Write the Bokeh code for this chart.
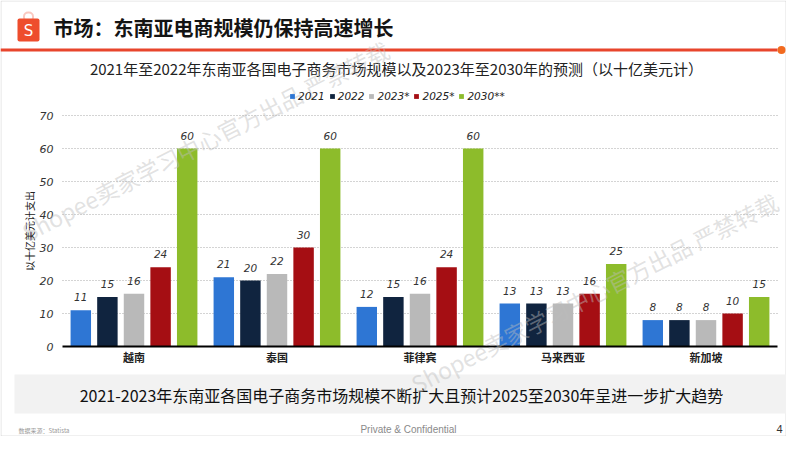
from bokeh.plotting import figure
from bokeh.models import (Range1d, Label, LabelSet, BoxAnnotation, Legend, LegendItem,
                          ColumnDataSource, FixedTicker)
from bokeh.transform import dodge
from bokeh.core.properties import value
from bokeh.embed import file_html
from bokeh.resources import INLINE

# ---------------- data ----------------
countries = ["越南", "泰国", "菲律宾", "马来西亚", "新加坡"]
years = ["2021", "2022", "2023*", "2025*", "2030**"]
v2021 = [11, 21, 12, 13, 8]
v2022 = [15, 20, 15, 13, 8]
v2023 = [16, 22, 16, 13, 8]
v2025 = [24, 30, 24, 16, 10]
v2030 = [60, 60, 60, 25, 15]
y_ticks = [0, 10, 20, 30, 40, 50, 60, 70]
colors = ["#2e76d4", "#10243f", "#b9b9b9", "#a50e13", "#8dbc2b"]

title_text = "市场：东南亚电商规模仍保持高速增长"
subtitle_text = "2021年至2022年东南亚各国电子商务市场规模以及2023年至2030年的预测（以十亿美元计）"
y_label = "以十亿美元计支出"
summary_text = "2021-2023年东南亚各国电子商务市场规模不断扩大且预计2025至2030年呈进一步扩大趋势"
footer_mid = "Private & Confidential"
footer_page = "4"
footer_src = "数据来源：Statista"
watermark = "Shopee卖家学习中心官方出品 严禁转载"

series = [v2021, v2022, v2023, v2025, v2030]
cols = ["y2021", "y2022", "y2023", "y2025", "y2030"]

# ---------------- geometry (canvas pixels) ----------------
W, H = 786, 436
FRAME_L, FRAME_R, FRAME_B = 62, 777, 346      # plotting area of the chart
PX_PER_UNIT = 3.3                              # pixels per billion USD
N = len(countries)
PX_PER_CAT = (FRAME_R - FRAME_L) / N
CJK = "Noto Sans CJK SC"
NUM = "DejaVu Sans"

# category positions on a numeric axis (category i is centred at i + 0.5)
xpos = [i + 0.5 for i in range(N)]
data = {"country": countries, "xpos": xpos}
for c, s in zip(cols, series):
    data[c] = s
    data[c + "_t"] = [str(v) for v in s]
src = ColumnDataSource(data)

x_range = Range1d(-FRAME_L / PX_PER_CAT, N + (W - FRAME_R) / PX_PER_CAT)
y_range = Range1d(-(H - FRAME_B) / PX_PER_UNIT, FRAME_B / PX_PER_UNIT)

p = figure(width=W, height=H, x_range=x_range, y_range=y_range,
           output_backend="svg", toolbar_location=None,
           min_border=0, min_border_left=0, min_border_right=0, min_border_top=0,
           min_border_bottom=0)
p.outline_line_color = None
p.background_fill_color = "white"
p.border_fill_color = "white"

# ---------------- decorations (screen units, canvas = frame) ----------------
def box(x0, y0, x1, y1, fill=None, line=None, lw=1, radius=0, alpha=1.0):
    p.add_layout(BoxAnnotation(left=x0, right=x1, top=H - y0, bottom=H - y1,
                               left_units="screen", right_units="screen",
                               top_units="screen", bottom_units="screen",
                               fill_color=fill if fill else "white",
                               fill_alpha=alpha if fill else 0,
                               line_color=line, line_width=lw, border_radius=radius))


def add_text(X, Y, t, size, color="#222222", font=CJK, style="normal", align="left",
             angle=0, alpha=1.0):
    p.add_layout(Label(x=X, y=H - Y, x_units="screen", y_units="screen", text=t,
                       text_font=font, text_font_size=f"{size}px",
                       text_font_style=style, text_color=color, text_align=align,
                       text_baseline="middle", angle=angle, angle_units="deg",
                       text_alpha=alpha))


# slide border
box(0.5, 0.5, W - 0.5, H - 0.5, fill=None, line="#9c9c9c", lw=1)
# summary strip (behind chart-free area)
box(14, 374, 787, 413, fill="#f2f2f2")

# ---------------- bars ----------------
pitch, bw = 0.186, 0.143
items = []
for i, (c, yr, col) in enumerate(zip(cols, years, colors)):
    off = (i - 2) * pitch
    r = p.vbar(x=dodge("xpos", off), top=c, width=bw, source=src,
               fill_color=col, line_color=None)
    items.append(LegendItem(label=yr, renderers=[r]))
    p.add_layout(LabelSet(x=dodge("xpos", off), y=c, text=c + "_t",
                          source=src, text_align="center", text_baseline="bottom",
                          y_offset=9, text_font=value(NUM), text_font_style="italic",
                          text_font_size="10.5px", text_color="#333333"))

# ---------------- axes (fixed inside the canvas-wide frame) ----------------
p.yaxis.fixed_location = 0
p.yaxis.bounds = (0, 70)
p.yaxis.ticker = FixedTicker(ticks=y_ticks)
p.yaxis.axis_line_color = None
p.yaxis.major_tick_line_color = None
p.yaxis.minor_tick_line_color = None
p.yaxis.major_tick_out = 0
p.yaxis.major_tick_in = 0
p.yaxis.major_label_standoff = 9
p.yaxis.major_label_text_font = NUM
p.yaxis.major_label_text_font_style = "italic"
p.yaxis.major_label_text_font_size = "11px"
p.yaxis.major_label_text_color = "#333333"
p.yaxis.axis_label = y_label
p.yaxis.axis_label_text_font = CJK
p.yaxis.axis_label_text_font_style = "normal"
p.yaxis.axis_label_text_font_size = "10px"
p.yaxis.axis_label_text_color = "#222222"
p.yaxis.axis_label_standoff = 0

p.xaxis.fixed_location = 0
p.xaxis.bounds = (0, N)
p.xaxis.ticker = FixedTicker(ticks=xpos)
p.xaxis.major_label_overrides = {x: c for x, c in zip(xpos, countries)}
p.xaxis.axis_line_color = "black"
p.xaxis.axis_line_width = 2
p.xaxis.major_tick_line_color = None
p.xaxis.minor_tick_line_color = None
p.xaxis.major_tick_out = 0
p.xaxis.major_tick_in = 0
p.xaxis.major_label_standoff = 2
p.xaxis.major_label_text_font = CJK
p.xaxis.major_label_text_font_style = "bold"
p.xaxis.major_label_text_font_size = "11px"
p.xaxis.major_label_text_color = "#222222"

p.xgrid.grid_line_color = None
p.ygrid.ticker = FixedTicker(ticks=y_ticks[1:])
p.ygrid.cross_bounds = (0, N)
p.ygrid.grid_line_color = "#a8a8a8"
p.ygrid.grid_line_dash = "1 2"
p.ygrid.grid_line_width = 1

legend = Legend(items=items, orientation="horizontal", location=(289, H - 102),
                glyph_width=6, glyph_height=6, label_standoff=3, spacing=4,
                padding=0, margin=0, border_line_color=None, background_fill_alpha=0,
                label_text_font=NUM, label_text_font_style="italic",
                label_text_font_size="10.5px", label_height=12, label_text_color="#222222")
p.add_layout(legend)

# ---------------- header ----------------
box(23.5, 12, 32.5, 21, fill=None, line="#ee4d2d", lw=2, radius=4)
box(17, 18, 39, 41, fill="#ee4d2d", radius=2)
add_text(28, 30, "S", 15, color="white", font="DejaVu Sans", align="center")
add_text(53, 27, title_text, 20, color="#141414", style="bold")
box(0, 48, 777, 51, fill="#e8452c")
box(777, 45.5, 785, 53.5, fill="#f26a1f", radius=4)
add_text(396, 68, subtitle_text, 15, color="#222222", align="center")

# ---------------- footer ----------------
add_text(401, 394, summary_text, 16, color="#111111", align="center")
add_text(408, 429, footer_mid, 10, color="#8a8a8a", font="Liberation Sans", align="center")
add_text(779, 428, footer_page, 11, color="#333333", font="Liberation Sans", align="center")
add_text(18, 430, footer_src, 6, color="#9a9a9a", align="left")

# ---------------- watermarks ----------------
for (X, Y) in [(205, 140), (594, 292)]:
    add_text(X, Y, watermark, 23, color="#bdbdbd", align="center", angle=27, alpha=0.45)

open("out.html", "w").write(file_html(p, INLINE))
